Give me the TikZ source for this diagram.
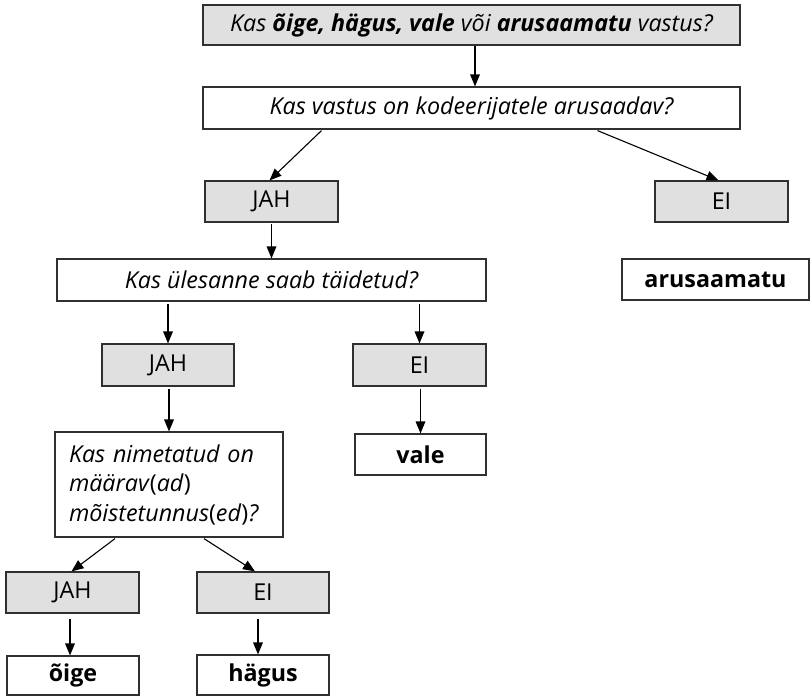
\documentclass[tikz,border=0pt]{standalone}
\usepackage{fontspec}
\setmainfont{Open Sans}
\usetikzlibrary{calc}
\definecolor{boxgray}{HTML}{E0E0E0}
\definecolor{boxline}{HTML}{303030}
\newcommand{\myarrow}[2]{%
  \coordinate (tb) at ($(#2)!12pt!(#1)$);
  \coordinate (tl) at ($(#2)!10pt!(#1)$);
  \draw[line width=1.1pt] (#1) -- (tl);
  \fill ($(tb)!5pt!90:(#2)$) -- (#2) -- ($(tb)!5pt!-90:(#2)$) -- cycle;}
\begin{document}
\begin{tikzpicture}[
  box/.style={draw=boxline,line width=1.2pt,inner sep=0pt,font=\fontsize{23.3}{27}\selectfont},
  graybox/.style={box,fill=boxgray}]
\useasboundingbox (0pt,0pt) rectangle (811pt,-696pt);
\node[graybox,minimum width=537pt,minimum height=40pt] (q1) at (471.5pt,-25pt) {\itshape Kas \textbf{õige, hägus, vale} või \textbf{arusaamatu} vastus?};
\node[box,minimum width=537pt,minimum height=42pt] (q2) at (471.5pt,-108pt) {\itshape Kas vastus on kodeerijatele arusaadav?};
\node[graybox,minimum width=133pt,minimum height=41pt] (jah1) at (271.5pt,-201.5pt) {JAH};
\node[graybox,minimum width=133pt,minimum height=41pt] (ei1) at (721.5pt,-201.5pt) {EI};
\node[box,minimum width=429pt,minimum height=42pt] (q3) at (271.5pt,-280pt) {\itshape Kas ülesanne saab täidetud?};
\node[box,minimum width=187pt,minimum height=41pt] (aru) at (715.5pt,-279.5pt) {\bfseries arusaamatu};
\node[graybox,minimum width=132pt,minimum height=42pt] (jah2) at (168pt,-365pt) {JAH};
\node[graybox,minimum width=133pt,minimum height=42pt] (ei2) at (419.5pt,-365pt) {EI};
\node[box,minimum width=228pt,minimum height=105pt,text width=200pt,align=left,font=\fontsize{23.3}{29.5}\selectfont] (q4) at (169pt,-484.5pt) {\textit{Kas nimetatud on}\\\textit{määrav}(\textit{ad})\\\textit{mõistetunnus}(\textit{ed})\textit{?}};
\node[box,minimum width=131pt,minimum height=41pt] (vale) at (420.5pt,-454.5pt) {\bfseries vale};
\node[graybox,minimum width=133pt,minimum height=41pt] (jah3) at (72.5pt,-592.5pt) {JAH};
\node[graybox,minimum width=132pt,minimum height=41pt] (ei3) at (263pt,-592.5pt) {EI};
\node[box,minimum width=132pt,minimum height=39pt] (oige) at (73pt,-675.5pt) {\bfseries õige};
\node[box,minimum width=132pt,minimum height=40pt] (hagus) at (263pt,-675pt) {\bfseries hägus};
% connector end points
\coordinate (s1) at ([xshift=3.5pt]q1.south);
\coordinate (e1) at ([xshift=3.5pt]q2.north);
\coordinate (s2) at ([xshift=-150pt,yshift=-1pt]q2.south);
\coordinate (e2) at ([xshift=-2pt]jah1.north);
\coordinate (s3) at ([xshift=126pt,yshift=-1pt]q2.south);
\coordinate (e3) at ([xshift=-3pt]ei1.north);
\coordinate (s4) at ([yshift=-1pt]jah1.south);
\coordinate (e4) at (q3.north);
\coordinate (s5) at ([yshift=-2pt]q3.south -| jah2.north);
\coordinate (e5) at (jah2.north);
\coordinate (s6) at ([yshift=-2pt]q3.south -| ei2.north);
\coordinate (e6) at (ei2.north);
\coordinate (s7) at ([yshift=-2pt]jah2.south -| q4.north);
\coordinate (e7) at (q4.north);
\coordinate (s8) at ([yshift=-2pt]ei2.south -| vale.north);
\coordinate (e8) at (vale.north);
\coordinate (s9) at ([xshift=-54pt,yshift=-1pt]q4.south);
\coordinate (e9) at ([xshift=-1pt]jah3.north);
\coordinate (s10) at ([xshift=35pt,yshift=-1pt]q4.south);
\coordinate (e10) at ([xshift=-8pt]ei3.north);
\coordinate (s11) at ([xshift=-2.5pt,yshift=-5pt]jah3.south);
\coordinate (e11) at ([xshift=-3pt]oige.north);
\coordinate (s12) at ([xshift=-5pt,yshift=-5pt]ei3.south);
\coordinate (e12) at ([xshift=-5pt]hagus.north);
\myarrow{s1}{e1}
\myarrow{s2}{e2}
\myarrow{s3}{e3}
\myarrow{s4}{e4}
\myarrow{s5}{e5}
\myarrow{s6}{e6}
\myarrow{s7}{e7}
\myarrow{s8}{e8}
\myarrow{s9}{e9}
\myarrow{s10}{e10}
\myarrow{s11}{e11}
\myarrow{s12}{e12}
\end{tikzpicture}
\end{document}
